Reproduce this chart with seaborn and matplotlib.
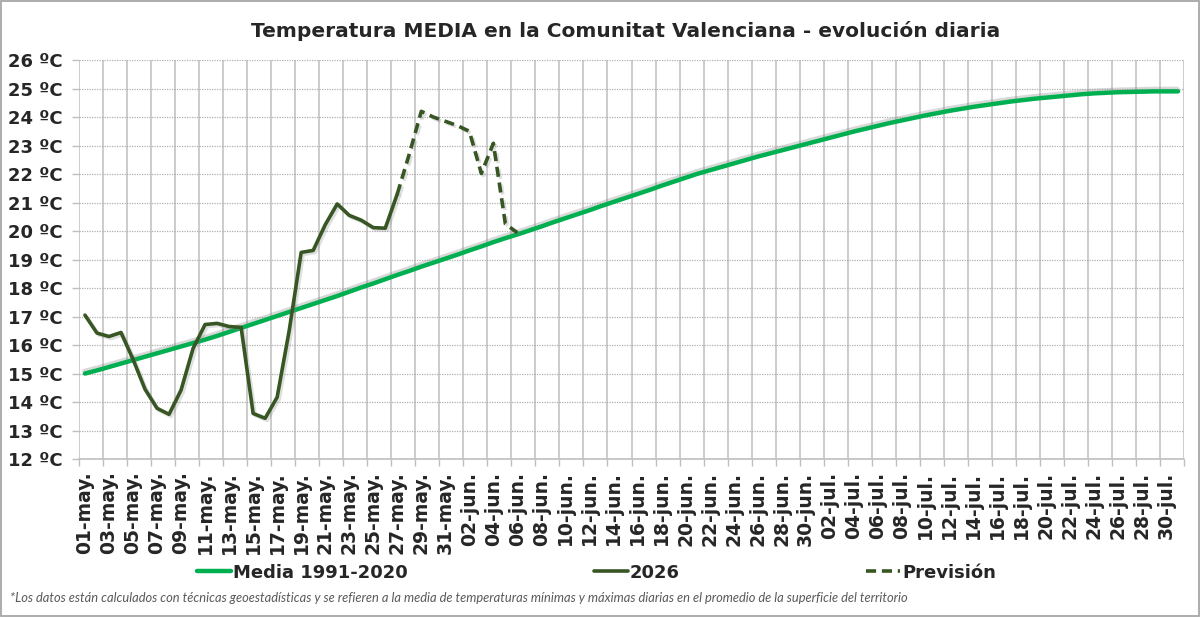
import pandas as pd
import matplotlib.pyplot as plt
import matplotlib.patheffects as pe
from matplotlib.lines import Line2D
from matplotlib.patches import Rectangle
import seaborn as sns

# -----------------------------------
# Data
# -----------------------------------
dias = pd.date_range("2026-05-01", "2026-07-31", freq="D")
meses = {5: "may.", 6: "jun.", 7: "jul."}
etiquetas = [f"{d.day:02d}-{meses[d.month]}" for d in dias]

media_1991_2020 = [
    15.00, 15.11, 15.23, 15.35, 15.47, 15.59, 15.71, 15.83, 15.95, 16.07,
    16.19, 16.32, 16.46, 16.60, 16.74, 16.88, 17.02, 17.16, 17.30, 17.44,
    17.58, 17.72, 17.87, 18.02, 18.16, 18.31, 18.46, 18.60, 18.75, 18.89,
    19.03, 19.17, 19.32, 19.46, 19.61, 19.75, 19.88, 20.02, 20.16, 20.31,
    20.45, 20.59, 20.73, 20.88, 21.02, 21.16, 21.30, 21.44, 21.59, 21.73,
    21.87, 22.01, 22.13, 22.25, 22.37, 22.49, 22.61, 22.72, 22.83, 22.94,
    23.05, 23.16, 23.27, 23.38, 23.49, 23.59, 23.69, 23.79, 23.88, 23.97,
    24.06, 24.14, 24.22, 24.29, 24.36, 24.42, 24.48, 24.54, 24.59, 24.64,
    24.68, 24.72, 24.76, 24.80, 24.83, 24.85, 24.87, 24.88, 24.89, 24.90,
    24.90, 24.90,
]

# observed 2026 (01-may .. 27-may)
t_2026 = [
    17.05, 16.42, 16.30, 16.44, 15.50, 14.45, 13.78, 13.57, 14.42, 15.88,
    16.72, 16.76, 16.65, 16.62, 13.60, 13.43, 14.17, 16.50, 19.25, 19.32,
    20.22, 20.95, 20.55, 20.38, 20.12, 20.10, 21.30,
]

# forecast (27-may .. 06-jun)
prevision = [21.30, 22.70, 24.20, 24.00, 23.85, 23.70, 23.50, 22.02, 23.08, 20.25, 19.94]
inicio_prev = 26

VERDE = "#00B050"
OSCURO = "#375623"

df_media = pd.DataFrame({"pos": range(len(media_1991_2020)), "temp": media_1991_2020})
df_2026 = pd.DataFrame({"pos": range(len(t_2026)), "temp": t_2026})
df_prev = pd.DataFrame({"pos": range(inicio_prev, inicio_prev + len(prevision)), "temp": prevision})

# -----------------------------------
# Plot
# -----------------------------------
sns.set_theme(style="white")
plt.rcParams["font.family"] = ["DejaVu Sans"]

fig = plt.figure(figsize=(12, 6.17), dpi=100)
ax = fig.add_axes([0.0658, 0.256, 0.9209, 0.6467])

sombra = [pe.SimpleLineShadow(offset=(-0.5, 1.8), shadow_color="#808080", alpha=0.3), pe.Normal()]
sombra2 = [pe.SimpleLineShadow(offset=(1.5, -1.5), shadow_color="#808080", alpha=0.25), pe.Normal()]

sns.lineplot(data=df_media, x="pos", y="temp", ax=ax, color=VERDE, lw=3.2,
             path_effects=sombra, zorder=3)
sns.lineplot(data=df_prev, x="pos", y="temp", ax=ax, color=OSCURO, lw=2.6,
             dashes=False, linestyle=(0, (2.8, 1.6)), path_effects=sombra2, zorder=4)
sns.lineplot(data=df_2026, x="pos", y="temp", ax=ax, color=OSCURO, lw=2.6,
             path_effects=sombra2, zorder=5)

n = len(dias)
ax.set_xlim(-0.5, n - 0.5)
ax.set_ylim(12, 26)

ax.set_xticks(range(0, n, 2))
ax.set_xticklabels(etiquetas[::2], rotation=90, fontsize=13.5, fontweight="bold")
ax.set_xticks([x - 0.5 for x in range(0, n + 1, 2)], minor=True)
ax.tick_params(axis="x", which="major", length=0, pad=9)
ax.tick_params(axis="x", which="minor", length=5, width=1, color="#BFBFBF", bottom=True)

ax.set_yticks(range(12, 27))
ax.set_yticklabels([f"{v} ºC" for v in range(12, 27)], fontsize=13, fontweight="bold")
ax.tick_params(axis="y", length=5, width=1, color="#BFBFBF", left=True, pad=7)

ax.grid(False)
ax.grid(axis="x", which="minor", color="#C8C8C8", lw=1.3, ls="-")
ax.grid(axis="y", which="major", color="#B0B0B0", lw=0.9, ls=(0, (1, 1)))
for s in ["top", "right", "left"]:
    ax.spines[s].set_visible(False)
ax.spines["bottom"].set_color("#BFBFBF")
ax.spines["bottom"].set_linewidth(1.2)
ax.set_xlabel("")
ax.set_ylabel("")

# title
fig.text(0.521, 0.949, "Temperatura MEDIA en la Comunitat Valenciana - evolución diaria",
         ha="center", va="center", fontsize=14.5, fontweight="bold")

# legend
handles = [
    Line2D([], [], color=VERDE, lw=3.2),
    Line2D([], [], color=OSCURO, lw=2.6),
    Line2D([], [], color=OSCURO, lw=2.6, ls=(0, (2.8, 1.6))),
]
fig.legend(handles, ["Media 1991-2020", "2026", "Previsión"], loc="center",
           bbox_to_anchor=(0.497, 0.072), ncol=3, frameon=False,
           prop={"weight": "bold", "size": 13}, handlelength=1.9,
           handletextpad=0.1, columnspacing=10.3)

# footnote
fig.text(0.008, 0.031,
         "*Los datos están calculados con técnicas geoestadísticas y se refieren a la media de "
         "temperaturas mínimas y máximas diarias en el promedio de la superficie del territorio",
         ha="left", va="center", fontsize=9.3, style="italic", color="#595959",
         family=["Lato", "DejaVu Sans"])

# outer frame
fig.patches.append(Rectangle((0.001, 0.002), 0.998, 0.996, transform=fig.transFigure,
                             fill=False, ec="#A6A6A6", lw=1.3))

fig.savefig("out.png", dpi=100)
